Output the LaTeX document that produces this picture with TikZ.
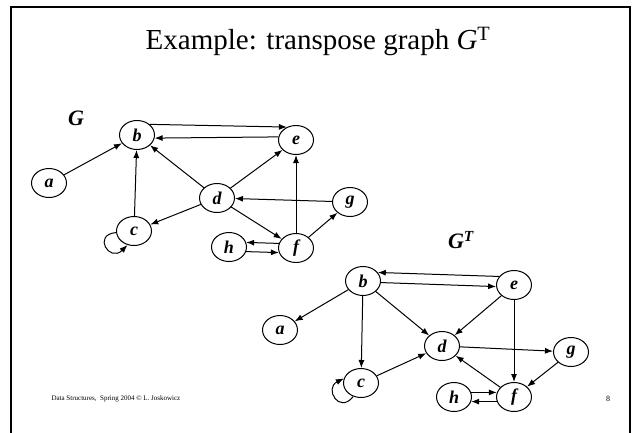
\documentclass[tikz,border=0pt]{standalone}
\usepackage{fontspec}
\setmainfont{Liberation Serif}
\usetikzlibrary{shapes.geometric,arrows.meta}
\tikzset{
vertex/.style={draw, ellipse, minimum width=35pt, minimum height=29pt, inner sep=0pt, line width=1pt, font=\fontsize{18}{18}\selectfont\bfseries\itshape},
arr/.style={-{Latex[length=8pt,width=6pt]}, line width=1pt},
glabel/.style={font=\fontsize{22}{22}\selectfont\bfseries\itshape}
}
\begin{document}
\begin{tikzpicture}[x=1pt,y=1pt]
\useasboundingbox (0,0) rectangle (636,432);
\draw[line width=2.5pt] (11,-2) -- (11,425) -- (630,425) -- (630,-2);
\node[font=\fontsize{29}{31}\selectfont] (title) at (318,391) {Example: transpose graph \textit{G}\textsuperscript{T}};
\node[font=\fontsize{7}{8}\selectfont, anchor=west] (foot) at (48,33) {Data Structures,\ \ Spring 2004 © L. Joskowicz};
\node[font=\fontsize{8}{8}\selectfont] (page) at (608,33) {8};
% graph G
\node[glabel] (Glabel) at (76,314) {G};
\foreach \n/\x/\y in {a/49/249, b/137/297, e/296/292, d/217/234, g/350/230, c/134/201, h/229/185, f/296/184}
\node[vertex] (G\n) at (\x,\y) {\n};
\foreach \s/\t in {a/b, d/b, d/e, c/b, d/c, g/d, d/f, f/e, f/g}
\draw[arr] (G\s) -- (G\t);
\draw[arr] (Gb.40) -- (Ge.125);
\draw[arr] (Ge.170) -- (Gb.-10);
\draw[arr] (Gf.165) -- (Gh.15);
\draw[arr] (Gh.-15) -- (Gf.195);
\draw[arr] (Gc.185) .. controls +(-24,-2) and +(-18,-18) .. (Gc.245);
% transpose graph
\node[glabel] (Tlabel) at (461,192) {G\textsuperscript{T}};
\foreach \n/\x/\y in {a/280/102, b/363/151, e/514/147, d/442/86, g/571/80, c/361/49, h/454/35, f/514/35}
\node[vertex] (T\n) at (\x,\y) {\n};
\foreach \s/\t in {b/a, b/d, e/d, b/c, c/d, d/g, f/d, e/f, g/f}
\draw[arr] (T\s) -- (T\t);
\draw[arr] (Te.150) -- (Tb.30);
\draw[arr] (Tb.-5) -- (Te.185);
\draw[arr] (Th.15) -- (Tf.165);
\draw[arr] (Tf.195) -- (Th.-15);
\draw[arr] (Tc.240) .. controls +(-14,-18) and +(-20,-10) .. (Tc.165);
\end{tikzpicture}
\end{document}
